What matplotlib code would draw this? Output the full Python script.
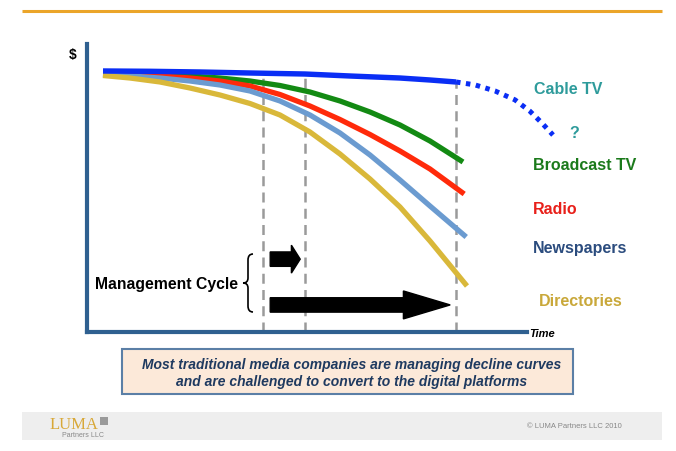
import numpy as np
import matplotlib.pyplot as plt
from matplotlib.patches import FancyArrow, Rectangle, PathPatch
from matplotlib.path import Path

plt.rcParams['font.family'] = ['Liberation Sans', 'DejaVu Sans']

# time axis runs 0..11, value axis 0..100
time_pts = [0.4, 1.075, 1.825, 2.575, 3.325, 4.075, 4.825, 5.575, 6.325, 7.075, 7.825, 8.575]
broadcast = [89.58, 89.48, 89.24, 88.89, 88.19, 87.15, 85.59, 83.33, 80.21, 76.39, 71.88, 66.32, 59.03]
radio = [89.41, 89.24, 88.89, 88.19, 87.15, 85.42, 82.47, 78.47, 73.78, 68.58, 62.85, 56.6, 47.92]
newspapers = [89.24, 88.89, 88.19, 87.15, 85.76, 83.68, 80.21, 75.35, 69.1, 61.46, 52.78, 43.75, 32.99]
directories = [89.06, 88.19, 86.81, 84.72, 82.29, 79.34, 75.35, 69.44, 61.81, 53.13, 43.4, 31.6, 15.97]
end_time = [9.4, 9.43, 9.48, 9.5]

cable_time = [0.4, 1.575, 2.825, 4.075, 5.45, 6.575, 7.825, 8.575, 9.225]
cable = [90.63, 90.52, 90.28, 89.93, 89.58, 88.89, 88.19, 87.5, 86.81]
cable_future_time = [9.225, 9.7, 10.2, 10.7, 11.07, 11.37, 11.65]
cable_future = [86.81, 85.8, 83.7, 80.6, 76.7, 72.6, 68.4]

names = ['Broadcast TV', 'Radio', 'Newspapers', 'Directories']
line_colors = ['#138a13', '#ff2a0a', '#6b9bd0', '#d9b83a']
label_colors = ['#1b7a1b', '#e8201a', '#2b4c7e', '#c9a83a']
label_y = [58.0, 43.0, 29.5, 11.1]

# management cycles (dashed lines and arrows)
cycle_x = [4.4, 5.45, 9.22]
cycle_top = [88.5, 88.8, 86.8]
arrow_start = [4.58, 4.58]
arrow_end = [5.33, 9.08]
arrow_y = [25.3, 9.4]

fig = plt.figure(figsize=(6.76, 4.52), dpi=100)

# page decoration in pixel coordinates
bg = fig.add_axes([0, 0, 1, 1])
bg.set_xlim(0, 676)
bg.set_ylim(452, 0)
bg.axis('off')
bg.plot([22, 662], [12, 12], color='#eba52a', lw=2.2, solid_capstyle='butt')
bg.add_patch(Rectangle((122, 350), 451, 45, facecolor='#fce9d9', edgecolor='#5b7fa6', lw=1.5))
bg.text(352, 365, 'Most traditional media companies are managing decline curves',
        ha='center', va='center', fontsize=10, fontweight='bold', fontstyle='italic', color='#1f3a60')
bg.text(352, 382, 'and are challenged to convert to the digital platforms',
        ha='center', va='center', fontsize=10, fontweight='bold', fontstyle='italic', color='#1f3a60')
bg.add_patch(Rectangle((22, 413), 640, 28, facecolor='#eeeeee', edgecolor='none'))
bg.text(50, 425, 'LUMA', fontfamily='Liberation Serif', fontsize=12, color='#d8a838', va='center')
bg.add_patch(Rectangle((100, 418), 8, 8, facecolor='#9a9a9a', edgecolor='none'))
bg.text(104, 436, 'Partners LLC', fontsize=5, color='#888888', ha='right', va='center')
bg.text(622, 427, '\u00a9 LUMA Partners LLC 2010', fontsize=5.5, color='#888888', ha='right', va='center')

# brace
bx, btop, bbot = 248, 255, 313
bmid = (btop + bbot) / 2
codes = [Path.MOVETO, Path.CURVE3, Path.CURVE3, Path.LINETO,
         Path.CURVE3, Path.CURVE3, Path.MOVETO,
         Path.CURVE3, Path.CURVE3, Path.LINETO,
         Path.LINETO, Path.CURVE3, Path.CURVE3]
verts = [(bx + 5, btop), (bx, btop), (bx, btop + 6), (bx, bmid - 5),
         (bx, bmid), (bx - 5, bmid), (bx - 5, bmid),
         (bx, bmid), (bx, bmid + 5), (bx, bbot - 6),
         (bx, bbot - 6), (bx, bbot), (bx + 5, bbot)]
bg.add_patch(PathPatch(Path(verts, codes), facecolor='none', edgecolor='black', lw=1.2))

# chart
ax = fig.add_axes([87 / 676, 119 / 452, 440 / 676, 288 / 452])
ax.patch.set_alpha(0)
ax.set_xlim(0, 11)
ax.set_ylim(0, 100)
for s in ['top', 'right']:
    ax.spines[s].set_visible(False)
for s in ['left', 'bottom']:
    ax.spines[s].set_color('#2f6090')
    ax.spines[s].set_linewidth(3)
ax.set_xticks([])
ax.set_yticks([])

for x, top in zip(cycle_x, cycle_top):
    ax.plot([x, x], [0, top], color='#9a9a9a', lw=1.8, ls=(0, (4, 2.5)), zorder=1)

series = [broadcast, radio, newspapers, directories]
for vals, end, col in zip(series, end_time, line_colors):
    ax.plot(time_pts + [end], vals, color=col, lw=3.8, solid_capstyle='butt',
            solid_joinstyle='round', zorder=2)

ax.plot(cable_time, cable, color='#0a2ef5', lw=3.9, solid_capstyle='butt', zorder=3)
ax.plot(cable_future_time, cable_future, color='#0a2ef5', lw=3.6, ls=(0, (0.9, 1.1)),
        clip_on=False, zorder=3)

for x0, x1, y in zip(arrow_start, arrow_end, arrow_y):
    hl = 0.22 if x1 - x0 < 1 else 1.17
    ax.add_patch(FancyArrow(x0, y, x1 - x0, 0, width=5.0, head_width=9.7, head_length=hl,
                            length_includes_head=True, color='black', zorder=4))

ax.text(11.18, 84.4, 'Cable TV', color='#2e9b9b', fontsize=11.5, fontweight='bold',
        va='center', clip_on=False)
ax.text(12.05, 69.1, '?', color='#2e9b9b', fontsize=11.5, fontweight='bold',
        va='center', clip_on=False)
for name, y, col in zip(names, label_y, label_colors):
    xx = 11.3 if name == 'Directories' else 11.15
    ax.text(xx, y, name, color=col, fontsize=11.5, fontweight='bold', va='center', clip_on=False)

ax.text(3.78, 17.0, 'Management Cycle', fontsize=11.3, fontweight='bold', ha='right', va='center')
ax.text(-0.35, 96.5, '$', fontsize=10, fontweight='bold', ha='center', va='center')
ax.text(11.05, -0.5, 'Time', fontsize=8, fontweight='bold', fontstyle='italic', va='center',
        clip_on=False)

fig.savefig('out.png', dpi=100)
